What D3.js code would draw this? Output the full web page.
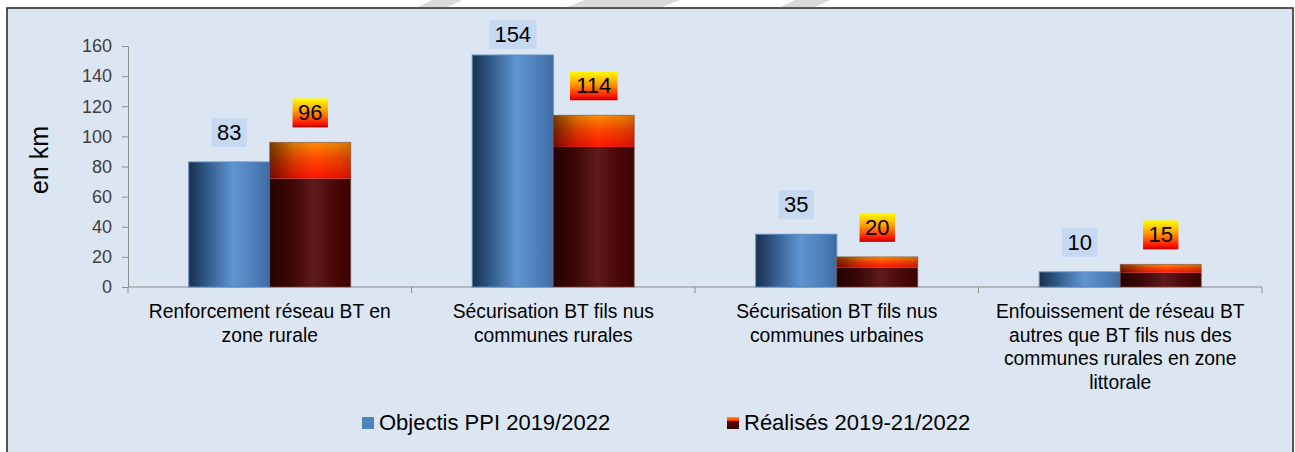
<!DOCTYPE html>
<html>
<head>
<meta charset="utf-8">
<script src="https://cdn.jsdelivr.net/npm/d3@7"></script>
<style>
  body { margin: 0; background: #ffffff; }
  svg { display: block; font-family: "Liberation Sans", Arial, sans-serif; }
</style>
</head>
<body>
<script>
// chart data
var categories = [
    "Renforcement réseau BT en\nzone rurale",
    "Sécurisation BT fils nus\ncommunes rurales",
    "Sécurisation BT fils nus\ncommunes urbaines",
    "Enfouissement de réseau BT\nautres que BT fils nus des\ncommunes rurales en zone\nlittorale"
];
var seriesNames = ["Objectis PPI 2019/2022", "Réalisés 2019-21/2022"];
var objectifs = [83, 154, 35, 10];
var realises = [96, 114, 20, 15];
// lower (dark) part of the "réalisés" bars
var realisesBase = [72, 93, 13, 9.5];
var yTicks = [0, 20, 40, 60, 80, 100, 120, 140, 160];

var width = 1295;
var height = 452;
var margin = {left: 128, right: 33, top: 46, bottom: 165};

var svg = d3.select("body").append("svg")
    .attr("width", width)
    .attr("height", height);

var defs = svg.append("defs");

function hGrad(id, stops) {
    var g = defs.append("linearGradient").attr("id", id)
        .attr("x1", "0%").attr("x2", "100%").attr("y1", "0%").attr("y2", "0%");
    stops.forEach(function(s){
        g.append("stop").attr("offset", s[0]).attr("stop-color", s[1])
            .attr("stop-opacity", s[2] === undefined ? 1 : s[2]);
    });
}
function vGrad(id, stops) {
    var g = defs.append("linearGradient").attr("id", id)
        .attr("x1", "0%").attr("x2", "0%").attr("y1", "0%").attr("y2", "100%");
    stops.forEach(function(s){
        g.append("stop").attr("offset", s[0]).attr("stop-color", s[1]);
    });
}

hGrad("blueBar", [["0%", "#1a2f4b"], ["20%", "#2d5584"], ["55%", "#5f95d2"], ["80%", "#4f80bc"], ["100%", "#3f6aa0"]]);
hGrad("darkBar", [["0%", "#250303"], ["25%", "#3a0606"], ["55%", "#5f1b1b"], ["80%", "#4a0707"], ["100%", "#3a0404"]]);
vGrad("fireBar", [["0%", "#ff9000"], ["45%", "#ff4a00"], ["100%", "#ff1400"]]);
hGrad("shade", [["0%", "#000000", 0.55], ["30%", "#000000", 0.15], ["55%", "#000000", 0], ["85%", "#000000", 0.1], ["100%", "#000000", 0.2]]);
vGrad("fireLabel", [["0%", "#ffff00"], ["45%", "#ff9900"], ["85%", "#ff1a00"], ["100%", "#c00000"]]);
vGrad("legendRed", [["0%", "#ff9a00"], ["35%", "#ff2000"], ["36%", "#5a0a0a"], ["100%", "#3a0404"]]);

// chart area background
svg.append("rect")
    .attr("x", 7).attr("y", 8)
    .attr("width", 1286).attr("height", 460)
    .attr("fill", "#dce6f2")
    .attr("stroke", "#222")
    .attr("stroke-width", 1.5);

// faint watermark strokes above the frame
var wm = [[432, 462, 448, 418], [585, 680, 662, 567], [795, 830, 815, 780]];
svg.append("g").selectAll("path").data(wm).enter().append("path")
    .attr("d", function(d){
        return "M" + d[0] + ",0L" + d[1] + ",0L" + d[2] + ",7L" + d[3] + ",7Z";
    })
    .attr("fill", "#d9d9d9");

var x0 = d3.scaleBand()
    .domain(categories)
    .range([margin.left, width - margin.right])
    .padding(0);

var x1 = d3.scaleBand()
    .domain([0, 1])
    .range([0, x0.bandwidth()])
    .paddingInner(0)
    .paddingOuter(0.75);

var yScale = d3.scaleLinear()
    .domain([0, 160])
    .range([287, margin.top]);

// y axis
var yAxis = svg.append("g")
    .attr("transform", "translate(" + margin.left + ",0)")
    .call(d3.axisLeft(yScale).tickValues(yTicks).tickSize(6).tickPadding(10).tickSizeOuter(0));
yAxis.select(".domain").attr("stroke", "#8c8c8c");
yAxis.selectAll(".tick line").attr("stroke", "#8c8c8c");
yAxis.selectAll(".tick text")
    .attr("fill", "#404040")
    .style("font-size", "18px")
    .style("font-family", "'Liberation Sans', Arial, sans-serif");

// x axis line with ticks at category boundaries
var xr = x0.range();
svg.append("line")
    .attr("x1", xr[0]).attr("x2", xr[1])
    .attr("y1", yScale(0)).attr("y2", yScale(0))
    .attr("stroke", "#8c8c8c");
svg.append("g").selectAll("line")
    .data(categories.concat(["end"]))
    .enter().append("line")
    .attr("x1", function(d, i){ return xr[0] + i * x0.step(); })
    .attr("x2", function(d, i){ return xr[0] + i * x0.step(); })
    .attr("y1", yScale(0)).attr("y2", yScale(0) + 6)
    .attr("stroke", "#8c8c8c");

// y axis title
svg.append("text")
    .text("en km")
    .attr("text-anchor", "middle")
    .attr("transform", "translate(48,160) rotate(-90)")
    .style("font-size", "25px")
    .attr("fill", "#000");

var barW = x1.bandwidth();

// objectif bars (blue)
svg.append("g").selectAll("rect")
    .data(objectifs)
    .enter().append("rect")
    .attr("x", function(d, i){ return x0(categories[i]) + x1(0); })
    .attr("y", function(d){ return yScale(d); })
    .attr("width", barW)
    .attr("height", function(d){ return yScale(0) - yScale(d); })
    .attr("fill", "url(#blueBar)")
    .attr("stroke", "#5a86bd")
    .attr("stroke-width", 1);

// réalisés bars: dark base + bright top
var redG = svg.append("g");
redG.selectAll("rect.base")
    .data(realisesBase)
    .enter().append("rect")
    .attr("class", "base")
    .attr("x", function(d, i){ return x0(categories[i]) + x1(1); })
    .attr("y", function(d){ return yScale(d); })
    .attr("width", barW)
    .attr("height", function(d){ return yScale(0) - yScale(d); })
    .attr("fill", "url(#darkBar)");

redG.selectAll("rect.top")
    .data(realises)
    .enter().append("rect")
    .attr("class", "top")
    .attr("x", function(d, i){ return x0(categories[i]) + x1(1); })
    .attr("y", function(d){ return yScale(d); })
    .attr("width", barW)
    .attr("height", function(d, i){ return yScale(realisesBase[i]) - yScale(d); })
    .attr("fill", "url(#fireBar)");

redG.selectAll("rect.shade")
    .data(realises)
    .enter().append("rect")
    .attr("class", "shade")
    .attr("x", function(d, i){ return x0(categories[i]) + x1(1); })
    .attr("y", function(d){ return yScale(d); })
    .attr("width", barW)
    .attr("height", function(d, i){ return yScale(realisesBase[i]) - yScale(d); })
    .attr("fill", "url(#shade)");

redG.selectAll("rect.outline")
    .data(realises)
    .enter().append("rect")
    .attr("class", "outline")
    .attr("x", function(d, i){ return x0(categories[i]) + x1(1); })
    .attr("y", function(d){ return yScale(d); })
    .attr("width", barW)
    .attr("height", function(d){ return yScale(0) - yScale(d); })
    .attr("fill", "none")
    .attr("stroke", "#7a4a3a")
    .attr("stroke-opacity", 0.6)
    .attr("stroke-width", 1);

// value labels
function addLabels(values, series, fill) {
    var g = svg.append("g").selectAll("g")
        .data(values)
        .enter().append("g")
        .attr("transform", function(d, i){
            var cx = x0(categories[i]) + x1(series) + barW / 2;
            var bottom = Math.max(yScale(d) - 15, 49);
            return "translate(" + cx + "," + bottom + ")";
        });
    g.append("rect")
        .attr("x", function(d){ return -(String(d).length * 12.2 + 11) / 2; })
        .attr("y", -29)
        .attr("width", function(d){ return String(d).length * 12.2 + 11; })
        .attr("height", 29)
        .attr("fill", fill);
    g.append("text")
        .text(function(d){ return d; })
        .attr("text-anchor", "middle")
        .attr("y", -7)
        .style("font-size", "22px")
        .attr("fill", "#000");
}
addLabels(objectifs, 0, "#c6d9f1");
addLabels(realises, 1, "url(#fireLabel)");

// category labels
var catG = svg.append("g").selectAll("text")
    .data(categories)
    .enter().append("text")
    .attr("text-anchor", "middle")
    .attr("x", function(d){ return x0(d) + x0.bandwidth() / 2; })
    .attr("y", 318)
    .style("font-size", "19.3px")
    .attr("fill", "#000");
catG.selectAll("tspan")
    .data(function(d){ return d.split("\n"); })
    .enter().append("tspan")
    .attr("x", function(){ var p = d3.select(this.parentNode).datum(); return x0(p) + x0.bandwidth() / 2; })
    .attr("dy", function(d, i){ return i === 0 ? 0 : 23.5; })
    .text(function(d){ return d; });

// legend
var legendX = [362, 727];
var legend = svg.append("g").selectAll("g")
    .data(seriesNames)
    .enter().append("g")
    .attr("transform", function(d, i){ return "translate(" + legendX[i] + ",417)"; });
legend.append("rect")
    .attr("width", 12).attr("height", 12)
    .attr("fill", function(d, i){ return i === 0 ? "#4f81bd" : "url(#legendRed)"; });
legend.append("text")
    .text(function(d){ return d; })
    .attr("x", 17)
    .attr("y", 13)
    .style("font-size", "22px")
    .attr("fill", "#000");
</script>
</body>
</html>
